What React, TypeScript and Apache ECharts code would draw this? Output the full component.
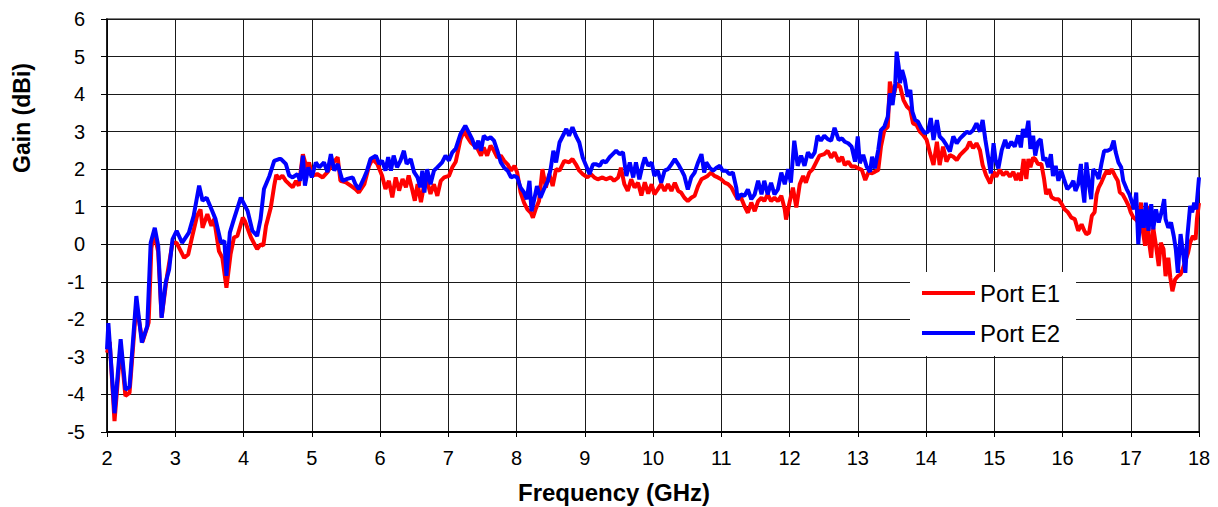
import React, { useEffect, useRef } from "react";
import * as echarts from "echarts";

const xTicks = { min: 2, max: 18, interval: 1 };
const yTicks = { min: -5, max: 6, interval: 1 };

const freqE1 = [2.0,2.04,2.11,2.2,2.27,2.33,2.43,2.52,2.61,2.65,2.69,2.75,2.8,2.88,2.96,3.02,3.13,3.19,3.25,3.32,3.37,3.4,3.47,3.53,3.57,3.64,3.69,3.75,3.81,3.86,3.91,3.99,4.02,4.11,4.2,4.25,4.29,4.33,4.4,4.45,4.48,4.52,4.57,4.62,4.67,4.72,4.77,4.81,4.87,4.93,4.96,5.01,5.08,5.16,5.23,5.3,5.38,5.42,5.5,5.57,5.64,5.69,5.77,5.84,5.89,5.96,6.03,6.08,6.13,6.18,6.23,6.28,6.33,6.38,6.42,6.47,6.51,6.55,6.6,6.64,6.69,6.74,6.79,6.84,6.89,6.94,7.01,7.06,7.11,7.18,7.23,7.28,7.33,7.38,7.43,7.48,7.52,7.57,7.62,7.67,7.72,7.77,7.82,7.87,7.92,7.97,8.01,8.06,8.11,8.16,8.21,8.24,8.28,8.33,8.38,8.43,8.48,8.53,8.58,8.63,8.7,8.77,8.82,8.87,8.92,8.97,9.04,9.09,9.14,9.19,9.26,9.31,9.38,9.43,9.49,9.53,9.58,9.63,9.68,9.73,9.78,9.83,9.88,9.93,9.98,10.02,10.07,10.12,10.17,10.22,10.27,10.32,10.37,10.41,10.46,10.51,10.56,10.61,10.66,10.71,10.76,10.8,10.85,10.9,10.95,11.0,11.05,11.1,11.15,11.2,11.24,11.29,11.34,11.39,11.44,11.49,11.54,11.59,11.63,11.68,11.73,11.78,11.83,11.88,11.93,11.95,12.0,12.05,12.1,12.15,12.2,12.24,12.29,12.34,12.39,12.44,12.51,12.56,12.61,12.66,12.72,12.77,12.81,12.86,12.91,12.96,13.01,13.06,13.11,13.16,13.2,13.25,13.3,13.34,13.39,13.44,13.47,13.52,13.57,13.62,13.67,13.72,13.77,13.81,13.86,13.91,13.96,14.01,14.06,14.11,14.16,14.2,14.25,14.3,14.35,14.4,14.45,14.5,14.55,14.6,14.64,14.69,14.74,14.79,14.83,14.88,14.94,14.99,15.03,15.08,15.13,15.18,15.23,15.28,15.32,15.36,15.39,15.43,15.47,15.5,15.53,15.57,15.6,15.64,15.69,15.73,15.76,15.8,15.84,15.89,15.94,15.99,16.03,16.08,16.13,16.18,16.23,16.28,16.32,16.35,16.39,16.43,16.47,16.5,16.53,16.57,16.61,16.65,16.68,16.72,16.77,16.81,16.84,16.88,16.92,16.97,17.0,17.04,17.07,17.11,17.15,17.18,17.21,17.24,17.27,17.3,17.33,17.37,17.41,17.44,17.48,17.51,17.55,17.58,17.61,17.65,17.69,17.73,17.76,17.8,17.84,17.87,17.91,17.95,17.97,18.0];
const gainE1 = [-2.89,-2.6,-4.71,-2.7,-4.04,-3.96,-1.6,-2.6,-2.09,-0.1,0.31,-0.2,-1.95,-0.84,0.04,0.04,-0.36,-0.27,0.22,0.76,0.93,0.44,0.8,0.49,0.67,-0.18,-0.36,-1.16,-0.27,0.18,0.22,0.71,0.62,0.18,-0.13,0.0,-0.04,0.49,0.98,1.56,1.85,1.74,1.83,1.69,1.6,1.52,1.69,1.56,2.4,2.0,2.18,1.83,1.87,1.78,1.92,2.14,2.32,1.69,1.65,1.56,1.47,1.38,1.6,2.09,2.27,2.14,1.83,1.47,1.69,1.25,1.78,1.43,1.74,1.52,1.83,1.47,1.16,1.6,1.12,1.52,1.69,1.34,1.6,1.29,1.69,1.78,1.82,2.05,2.2,2.8,3.02,2.85,2.71,2.63,2.54,2.36,2.58,2.36,2.63,2.49,2.31,2.36,2.22,2.13,1.96,2.09,1.91,1.38,1.11,0.93,0.84,0.71,0.93,1.15,2.0,1.51,1.87,1.55,2.0,1.96,2.22,2.18,2.27,2.13,1.96,1.87,1.78,1.87,1.78,1.73,1.78,1.73,1.78,1.69,1.78,2.04,1.6,1.42,1.73,1.51,1.64,1.3,1.65,1.35,1.6,1.33,1.46,1.6,1.42,1.6,1.42,1.64,1.42,1.38,1.24,1.15,1.24,1.29,1.55,1.73,1.78,1.82,1.91,1.82,1.78,1.73,1.64,1.6,1.51,1.33,1.2,1.24,1.02,0.84,1.11,0.88,1.15,1.24,1.15,1.33,1.15,1.24,1.15,1.29,0.93,0.66,1.11,1.51,0.98,1.6,1.82,1.64,1.91,2.0,2.18,2.36,2.4,2.49,2.31,2.45,2.2,2.33,2.11,2.2,2.07,2.07,2.02,1.98,1.71,1.93,1.89,1.93,1.98,2.6,3.04,3.13,4.33,3.93,4.29,4.2,3.84,3.67,3.58,3.22,3.18,3.0,2.91,2.78,2.42,2.11,2.73,2.11,2.6,2.2,2.38,2.33,2.24,2.38,2.47,2.56,2.73,2.56,2.69,2.51,2.11,1.84,1.62,1.93,1.8,1.98,1.84,1.93,1.8,1.93,1.71,1.9,1.69,2.27,1.74,2.27,2.05,2.31,2.27,2.14,2.14,1.74,1.33,1.47,1.25,1.2,1.2,1.07,0.93,0.85,0.71,0.67,0.36,0.53,0.36,0.27,0.31,0.76,0.85,1.33,1.51,1.65,1.82,1.96,1.87,2.0,1.82,1.69,1.38,1.33,1.2,1.02,0.85,0.71,0.67,0.58,1.11,0.31,-0.04,1.02,0.04,-0.36,0.44,-0.04,-0.58,0.04,-0.13,-0.85,-0.36,-0.89,-1.25,-0.94,-0.85,-0.8,-0.67,-0.45,-0.22,0.04,0.22,0.13,0.67,1.1];

const freqE2 = [2.0,2.02,2.11,2.2,2.27,2.33,2.43,2.51,2.59,2.64,2.7,2.75,2.8,2.86,2.91,2.96,3.02,3.1,3.2,3.27,3.35,3.4,3.46,3.54,3.59,3.67,3.72,3.75,3.8,3.86,3.96,4.06,4.13,4.2,4.25,4.3,4.38,4.45,4.52,4.55,4.62,4.67,4.72,4.79,4.83,4.87,4.9,4.95,5.0,5.06,5.11,5.18,5.23,5.28,5.33,5.38,5.45,5.52,5.6,5.64,5.69,5.76,5.81,5.86,5.94,5.99,6.03,6.08,6.12,6.16,6.2,6.25,6.3,6.35,6.39,6.45,6.5,6.55,6.59,6.62,6.65,6.69,6.74,6.79,6.84,6.91,6.96,7.01,7.06,7.11,7.18,7.25,7.3,7.35,7.4,7.44,7.48,7.52,7.57,7.62,7.67,7.72,7.77,7.82,7.87,7.92,7.97,8.01,8.06,8.11,8.15,8.19,8.22,8.26,8.3,8.35,8.4,8.46,8.5,8.54,8.58,8.63,8.68,8.73,8.77,8.82,8.87,8.92,8.97,9.02,9.07,9.12,9.17,9.22,9.26,9.31,9.36,9.41,9.46,9.51,9.56,9.61,9.66,9.71,9.75,9.8,9.85,9.88,9.93,9.98,10.02,10.07,10.12,10.17,10.22,10.27,10.32,10.37,10.41,10.46,10.51,10.56,10.61,10.66,10.71,10.75,10.78,10.83,10.88,10.93,10.98,11.02,11.07,11.12,11.17,11.22,11.24,11.29,11.34,11.39,11.44,11.49,11.54,11.59,11.63,11.68,11.73,11.78,11.83,11.88,11.93,11.98,12.02,12.07,12.12,12.17,12.22,12.27,12.32,12.37,12.41,12.46,12.51,12.56,12.61,12.66,12.72,12.77,12.81,12.86,12.91,12.96,13.0,13.03,13.08,13.13,13.18,13.21,13.25,13.3,13.34,13.39,13.44,13.47,13.51,13.55,13.57,13.6,13.62,13.65,13.69,13.73,13.77,13.8,13.84,13.88,13.93,13.98,14.03,14.07,14.11,14.16,14.2,14.25,14.3,14.35,14.4,14.45,14.5,14.55,14.6,14.64,14.69,14.74,14.79,14.83,14.87,14.91,14.95,14.99,15.02,15.06,15.11,15.16,15.2,15.25,15.3,15.35,15.39,15.42,15.46,15.5,15.53,15.57,15.6,15.64,15.68,15.72,15.75,15.79,15.83,15.86,15.9,15.94,15.98,16.02,16.07,16.12,16.16,16.19,16.23,16.27,16.29,16.32,16.35,16.39,16.42,16.45,16.5,16.53,16.57,16.61,16.66,16.71,16.75,16.78,16.82,16.86,16.89,16.94,16.98,17.01,17.05,17.08,17.11,17.15,17.19,17.22,17.26,17.3,17.33,17.37,17.41,17.45,17.49,17.51,17.55,17.59,17.63,17.66,17.69,17.73,17.76,17.8,17.83,17.87,17.9,17.93,17.96,18.0];
const gainE2 = [-2.8,-2.1,-4.5,-2.53,-3.87,-3.8,-1.38,-2.62,-2.18,0.04,0.44,-0.04,-1.96,-1.02,-0.67,0.13,0.36,0.04,0.31,0.76,1.56,1.16,1.24,0.89,0.67,0.04,0.09,-0.84,0.31,0.67,1.24,0.89,0.36,0.22,0.67,1.47,1.82,2.22,2.27,2.27,2.14,1.83,1.78,1.87,1.69,2.36,1.56,2.05,1.78,2.18,2.05,2.18,1.92,2.4,1.96,2.14,1.69,1.74,1.78,1.6,1.47,1.74,1.96,2.27,2.36,2.14,2.23,1.96,2.32,1.96,2.36,2.05,2.23,2.49,2.14,2.27,1.92,1.78,1.52,1.96,1.38,2.0,1.6,1.96,2.05,2.18,2.36,2.23,2.45,2.55,2.94,3.16,2.98,2.8,2.54,2.76,2.49,2.89,2.8,2.85,2.76,2.49,2.18,2.04,1.96,1.78,1.82,1.78,1.51,1.38,1.2,1.69,0.88,1.2,1.55,1.24,1.46,1.69,2.0,2.49,2.18,2.71,2.89,3.07,2.89,3.12,2.89,2.71,2.31,2.09,1.87,2.13,2.13,2.09,2.22,2.18,2.31,2.4,2.49,2.4,2.45,1.82,2.18,1.78,2.18,1.73,2.13,2.31,2.09,2.18,1.82,1.96,1.64,1.96,2.0,2.13,2.27,2.13,2.0,1.82,1.46,1.78,1.91,2.18,2.4,1.91,2.18,2.04,1.96,2.04,2.09,1.96,1.96,1.87,1.91,1.51,1.2,1.33,1.29,1.46,1.2,1.33,1.69,1.33,1.69,1.33,1.64,1.33,1.46,1.91,1.6,2.0,1.64,2.76,2.09,2.36,2.09,2.45,2.31,2.45,2.89,2.76,2.89,2.8,2.76,3.1,2.78,2.82,2.73,2.69,2.6,2.2,2.87,2.16,2.38,2.07,1.93,2.33,2.02,2.51,3.04,3.13,3.4,4.02,3.71,4.29,5.13,4.73,4.29,4.64,4.38,3.93,4.11,3.53,3.31,3.27,3.09,2.96,3.0,3.36,2.78,3.31,2.87,2.78,2.64,2.47,2.87,2.69,2.82,2.91,3.0,2.96,3.04,3.22,3.0,3.31,2.78,2.33,1.89,2.69,2.24,2.02,2.51,2.78,2.56,2.73,2.6,2.9,2.58,3.07,2.85,3.29,2.54,2.89,2.36,2.72,2.8,2.23,2.31,2.05,2.4,1.82,2.09,1.69,1.96,1.74,1.47,1.56,1.69,1.42,1.6,2.14,1.56,1.11,2.18,1.56,1.2,2.0,1.87,1.74,2.14,2.49,2.49,2.54,2.76,2.45,2.18,2.05,1.69,1.47,1.33,1.16,0.93,1.38,0.0,0.93,0.44,1.11,0.36,1.07,0.4,0.93,0.58,0.85,1.2,0.67,0.44,0.58,0.22,-0.13,-0.76,0.27,-0.13,-0.76,0.22,1.02,0.85,1.11,0.93,1.78];

const seriesNames = ["Port E1", "Port E2"];
const seriesColors = ["#FF0000", "#0000FF"];

const FONT = "Arial, 'Liberation Sans', sans-serif";

export default function App() {
  const ref = useRef<HTMLDivElement>(null);
  useEffect(() => {
    if (!ref.current) return;
    const chart = echarts.init(ref.current, undefined, { renderer: "svg" });
    const d1 = freqE1.map((f, i) => [f, gainE1[i]]);
    const d2 = freqE2.map((f, i) => [f, gainE2[i]]);
    chart.setOption({
      animation: false,
      backgroundColor: "#ffffff",
      grid: {
        left: 107,
        right: 19,
        top: 19,
        bottom: 75,
        show: true,
        borderColor: "#808080",
        borderWidth: 2,
        backgroundColor: "transparent",
      },
      xAxis: {
        type: "value",
        min: xTicks.min,
        max: xTicks.max,
        interval: xTicks.interval,
        axisLine: { show: true, onZero: false, lineStyle: { color: "#000", width: 2 } },
        axisTick: { show: true, inside: false, length: 5, lineStyle: { color: "#000" } },
        axisLabel: { margin: 16, color: "#000", fontSize: 20, fontFamily: FONT },
        splitLine: { show: true, lineStyle: { color: "#1a1a1a", width: 1 } },
      },
      yAxis: {
        type: "value",
        min: yTicks.min,
        max: yTicks.max,
        interval: yTicks.interval,
        axisLine: { show: true, onZero: false, lineStyle: { color: "#000", width: 1.5 } },
        axisTick: { show: true, inside: false, length: 6, lineStyle: { color: "#000" } },
        axisLabel: { margin: 22, color: "#000", fontSize: 20, fontFamily: FONT },
        splitLine: { show: true, lineStyle: { color: "#1a1a1a", width: 1 } },
      },
      legend: {
        show: true,
        orient: "vertical",
        left: 910,
        top: 272,
        padding: [9, 16, 11, 12],
        itemGap: 16,
        itemWidth: 53,
        itemHeight: 4,
        backgroundColor: "#ffffff",
        borderWidth: 0,
        data: seriesNames.map((n) => ({ name: n, icon: "rect" })),
        textStyle: { fontSize: 24, fontFamily: FONT, color: "#000", lineHeight: 24 },
      },
      graphic: [
        {
          type: "text",
          x: 614,
          y: 492,
          style: {
            text: "Frequency (GHz)",
            fontSize: 24,
            fontWeight: "bold",
            fontFamily: FONT,
            fill: "#000",
            align: "center",
            verticalAlign: "middle",
          },
        },
        {
          type: "text",
          x: 22,
          y: 118,
          rotation: Math.PI / 2,
          style: {
            text: "Gain (dBi)",
            fontSize: 23,
            fontWeight: "bold",
            fontFamily: FONT,
            fill: "#000",
            align: "center",
            verticalAlign: "middle",
          },
        },
      ],
      series: [
        {
          name: seriesNames[0],
          type: "line",
          data: d1,
          showSymbol: false,
          symbol: "none",
          lineStyle: { color: seriesColors[0], width: 4 },
          itemStyle: { color: seriesColors[0] },
        },
        {
          name: seriesNames[1],
          type: "line",
          data: d2,
          showSymbol: false,
          symbol: "none",
          lineStyle: { color: seriesColors[1], width: 4 },
          itemStyle: { color: seriesColors[1] },
        },
      ],
    });
    return () => chart.dispose();
  }, []);
  return (
    <div
      ref={ref}
      style={{ position: "fixed", left: 0, top: 0, width: 1218, height: 507 }}
    />
  );
}
